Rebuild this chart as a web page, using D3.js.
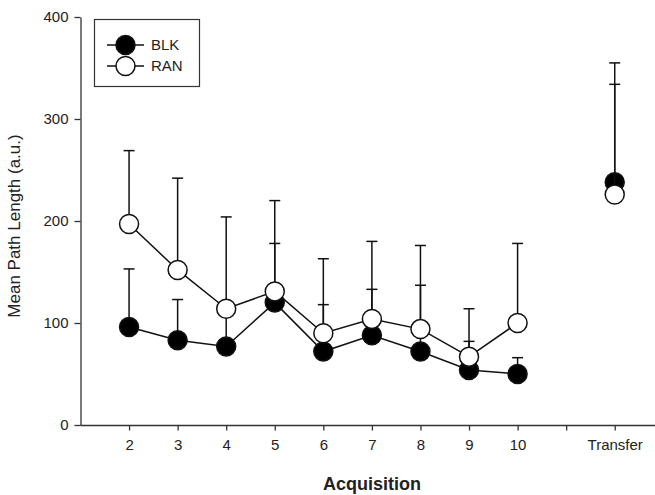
<!DOCTYPE html>
<html>
<head>
<meta charset="utf-8">
<script src="https://cdn.jsdelivr.net/npm/d3@7"></script>
<style>
  body { margin: 0; background: #fff; }
  svg text { font-family: "Liberation Sans", Arial, sans-serif; fill: #222; }
</style>
</head>
<body>
<svg width="655" height="495"></svg>
<script>
// acquisition sessions (x) plus the transfer test
const sessions = [2, 3, 4, 5, 6, 7, 8, 9, 10];
const transferX = 12;
const xTicks = [2, 3, 4, 5, 6, 7, 8, 9, 10, 11, 12];
const xTickLabels = ["2", "3", "4", "5", "6", "7", "8", "9", "10", "", "Transfer"];
const yTicks = [0, 100, 200, 300, 400];

// means and upper error (SE)
const blkMean = [96, 83, 77, 120, 72, 88, 72, 54, 50];
const blkErr = [57, 40, 35, 58, 46, 45, 65, 28, 16];
const ranMean = [197, 152, 114, 131, 90, 104, 94, 67, 100];
const ranErr = [72, 90, 90, 89, 73, 76, 82, 47, 78];
const blkTransfer = [238, 96];
const ranTransfer = [226, 129];

const svg = d3.select("svg");

const x = d3.scaleLinear().domain([1, 12.85]).range([80.5, 656]);
const y = d3.scaleLinear().domain([0, 400]).range([425, 17]);

// axes
const yAxis = svg.append("g")
    .attr("transform", "translate(80.5,0)")
    .call(d3.axisLeft(y).tickValues(yTicks).tickSize(6).tickSizeOuter(0).tickPadding(6));
const xAxis = svg.append("g")
    .attr("transform", "translate(0,425.5)")
    .call(d3.axisBottom(x).tickValues(xTicks).tickFormat((d, i) => xTickLabels[i])
        .tickSize(5).tickSizeOuter(0).tickPadding(9));
[yAxis, xAxis].forEach(g => {
  g.selectAll("path, line").attr("stroke", "#333").attr("stroke-width", 1.3);
  g.selectAll("text").style("font-size", "15px").attr("fill", "#222");
});
xAxis.select(".domain").attr("d", "M80.5,0H656");

svg.append("text")
    .attr("transform", "translate(20,226) rotate(-90)")
    .attr("text-anchor", "middle")
    .style("font-size", "17px")
    .text("Mean Path Length (a.u.)");

svg.append("text")
    .attr("x", 372).attr("y", 490)
    .attr("text-anchor", "middle")
    .style("font-size", "18px")
    .style("font-weight", "bold")
    .text("Acquisition");

// series
const series = [
  { name: "BLK", fill: "#000", mean: blkMean, err: blkErr, tr: blkTransfer },
  { name: "RAN", fill: "#fff", mean: ranMean, err: ranErr, tr: ranTransfer }
];

const line = d3.line().x(d => x(d[0])).y(d => y(d[1]));
const capW = 5.5;
const r = 9.5;

series.forEach(s => {
  const pts = sessions.map((d, i) => [d, s.mean[i], s.err[i]]);
  pts.push([transferX, s.tr[0], s.tr[1]]);
  const g = svg.append("g");

  g.append("path")
      .datum(pts.slice(0, sessions.length))
      .attr("d", line)
      .attr("fill", "none")
      .attr("stroke", "#111")
      .attr("stroke-width", 1.5);

  const eb = g.selectAll(".eb").data(pts).enter().append("g")
      .attr("stroke", "#111").attr("stroke-width", 1.5);
  eb.append("line")
      .attr("x1", d => x(d[0])).attr("x2", d => x(d[0]))
      .attr("y1", d => y(d[1])).attr("y2", d => y(d[1] + d[2]));
  eb.append("line")
      .attr("x1", d => x(d[0]) - capW).attr("x2", d => x(d[0]) + capW)
      .attr("y1", d => y(d[1] + d[2])).attr("y2", d => y(d[1] + d[2]));

  g.selectAll("circle").data(pts).enter().append("circle")
      .attr("cx", d => x(d[0])).attr("cy", d => y(d[1]))
      .attr("r", r)
      .attr("fill", s.fill)
      .attr("stroke", "#111")
      .attr("stroke-width", 1.5);
});

// legend
const legend = svg.append("g");
legend.append("rect")
    .attr("x", 94.5).attr("y", 19.5).attr("width", 105).attr("height", 67)
    .attr("fill", "#fff").attr("stroke", "#333").attr("stroke-width", 1.2);
series.forEach((s, i) => {
  const ly = 45 + i * 21;
  legend.append("line")
      .attr("x1", 107).attr("x2", 144).attr("y1", ly).attr("y2", ly)
      .attr("stroke", "#111").attr("stroke-width", 1.5);
  legend.append("circle")
      .attr("cx", 125.5).attr("cy", ly).attr("r", r)
      .attr("fill", s.fill).attr("stroke", "#111").attr("stroke-width", 1.5);
  legend.append("text")
      .attr("x", 151).attr("y", ly + 5)
      .style("font-size", "15px")
      .text(s.name);
});
</script>
</body>
</html>
